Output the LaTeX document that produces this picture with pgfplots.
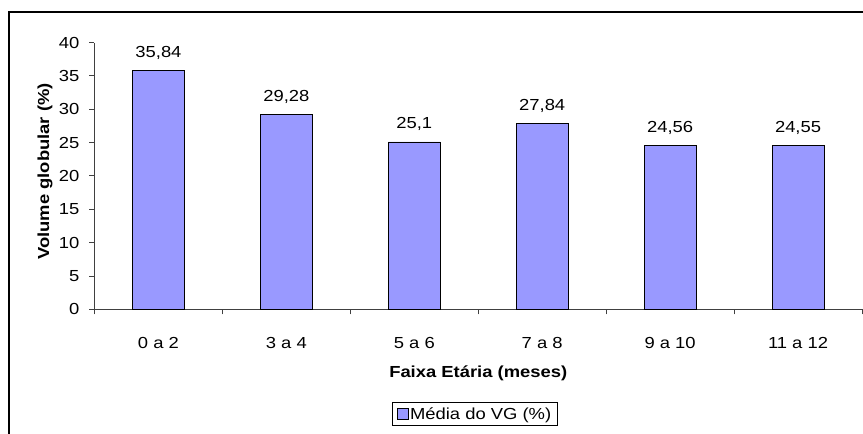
\documentclass[border=0pt]{standalone}
\usepackage{fontspec}
\setmainfont{Liberation Sans}[FakeStretch=1.15]
\usepackage{pgfplots}
\pgfplotsset{compat=1.18}
\definecolor{vgbar}{HTML}{9999FF}
\definecolor{axgray}{HTML}{404040}
\newcommand\lbl{\fontsize{16}{19}\selectfont}

\begin{document}
\begin{tikzpicture}[x=1pt,y=1pt]
\useasboundingbox (0,0) rectangle (863,434);
\clip (0,0) rectangle (863,434);
\fill[white] (0,0) rectangle (863,434);
\draw[line width=2pt] (9,-20) rectangle (890,422);
\begin{axis}[
  at={(94.5pt,124.7pt)}, anchor=south west,
  scale only axis, width=767.5pt, height=266.7pt,
  ybar, bar width=52pt,
  xmin=-0.5, xmax=5.5,
  ymin=0, ymax=40,
  ytick={0,5,...,40},
  xtick={0,...,5},
  xticklabels={0 a 2, 3 a 4, 5 a 6, 7 a 8, 9 a 10, 11 a 12},
  minor xtick={-0.5,0.5,...,5.5},
  major x tick style={draw=none},
  axis x line*=bottom, axis y line*=left,
  axis line style={axgray, line width=0.9pt},
  tick style={axgray, line width=0.9pt},
  tick align=outside,
  major tick length=5pt, minor tick length=5pt,
  /pgf/number format/assume math mode=true,
  /pgf/number format/use comma,
  /pgf/number format/precision=2,
  yticklabel style={font=\lbl, anchor=east, inner sep=0pt, xshift=-10pt},
  xticklabel style={font=\lbl, anchor=base, inner sep=0pt, yshift=-34pt},
  xlabel={\textbf{Faixa Etária (meses)}},
  ylabel={\textbf{Volume globular (\%)}},
  every axis x label/.style={at={(axis description cs:0.5,-0.2547)}, anchor=base, font=\lbl},
  every axis y label/.style={at={(axis description cs:-0.0645,0.5167)}, anchor=center, rotate=90, font=\lbl},
  nodes near coords,
  every node near coord/.append style={font=\lbl, anchor=base, inner sep=0pt, yshift=13pt, black},
  legend style={at={(axis description cs:0.3876,-0.3476)}, anchor=north west,
    draw=black, line width=0.8pt, font=\lbl, inner xsep=4.5pt, inner ysep=2pt,
    nodes={inner xsep=1.5pt, inner ysep=3pt}},
]
\addplot[fill=vgbar, draw=black, line width=0.7pt,
  legend image code/.code={\draw[fill=vgbar, draw=black, line width=0.7pt] (0pt,-5.5pt) rectangle (11pt,5.5pt);}]
  coordinates {(0,35.84) (1,29.28) (2,25.1) (3,27.84) (4,24.56) (5,24.55)};
\addlegendentry{Média do VG (\%)}
\end{axis}
\end{tikzpicture}
\end{document}
